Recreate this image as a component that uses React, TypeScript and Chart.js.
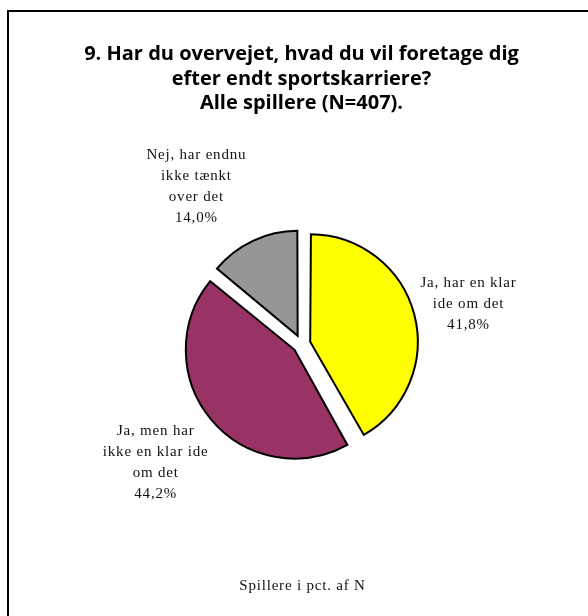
import React, { useEffect, useRef } from 'react';
import { Chart, registerables } from 'chart.js';

Chart.register(...registerables);

// ---- data ----
const categories: string[][] = [
  ['Ja, har en klar', 'ide om det'],
  ['Ja, men har', 'ikke en klar ide', 'om det'],
  ['Nej, har endnu', 'ikke tænkt', 'over det'],
];
const values: number[] = [41.8, 44.2, 14.0];
const colors: string[] = ['#FFFF00', '#993366', '#969696'];
const titleLines: string[] = [
  '9. Har du overvejet, hvad du vil foretage dig',
  'efter endt sportskarriere?',
  'Alle spillere (N=407).',
];
const caption = 'Spillere i pct. af N';

// ---- label placement (style) ----
const labelDist = [172, 187, 190];
const labelAngleNudge = [0.9, 1.2, -8.4];

const fmtPct = (v: number) => v.toFixed(1).replace('.', ',') + '%';

const framePlugin = {
  id: 'frame',
  beforeDraw(chart: any) {
    const ctx = chart.ctx;
    ctx.save();
    ctx.fillStyle = '#ffffff';
    ctx.fillRect(0, 0, chart.width, chart.height);
    ctx.strokeStyle = '#000000';
    ctx.lineWidth = 2;
    ctx.beginPath();
    ctx.moveTo(8, chart.height);
    ctx.lineTo(8, 11);
    ctx.lineTo(chart.width, 11);
    ctx.stroke();
    ctx.restore();
  },
};

const labelPlugin = {
  id: 'sliceLabels',
  afterDatasetsDraw(chart: any) {
    const ctx = chart.ctx;
    const meta = chart.getDatasetMeta(0);
    ctx.save();
    ctx.font = '15px "Liberation Serif"';
    (ctx as any).letterSpacing = '0.8px';
    ctx.fillStyle = '#111111';
    ctx.textAlign = 'center';
    ctx.textBaseline = 'alphabetic';
    meta.data.forEach((arc: any, i: number) => {
      const { x, y, startAngle, endAngle } = arc.getProps(['x', 'y', 'startAngle', 'endAngle'], true);
      const a = (startAngle + endAngle) / 2 + (labelAngleNudge[i] * Math.PI) / 180;
      const cx = x + Math.cos(a) * labelDist[i];
      const cy = y + Math.sin(a) * labelDist[i];
      const lines = [...categories[i], fmtPct(values[i])];
      lines.forEach((l, k) => {
        ctx.fillText(l, cx, cy + 5 + (k - (lines.length - 1) / 2) * 21);
      });
    });
    const area = chart.chartArea;
    ctx.fillText(caption, (area.left + area.right) / 2 + 1, 590);
    ctx.restore();
  },
};

export default function App() {
  const ref = useRef<HTMLCanvasElement | null>(null);
  useEffect(() => {
    if (!ref.current) return;
    const chart = new Chart(ref.current, {
      type: 'pie',
      data: {
        labels: categories.map((c) => c.join(' ')),
        datasets: [
          {
            data: values,
            backgroundColor: colors,
            borderColor: '#000000',
            borderWidth: 2,
            borderJoinStyle: 'miter',
            offset: 36,
            radius: 103,
          } as any,
        ],
      },
      options: {
        responsive: false,
        animation: false,
        layout: { padding: { left: 15, right: 0, top: 0, bottom: 44 } },
        plugins: {
          legend: { display: false },
          tooltip: { enabled: false },
          title: {
            display: true,
            text: titleLines,
            color: '#000000',
            font: { family: "'Open Sans'", size: 20, weight: 'bold', lineHeight: 24.5 / 20 },
            padding: { top: 42.5, bottom: 0 },
          },
        },
      },
      plugins: [framePlugin, labelPlugin],
    });
    return () => chart.destroy();
  }, []);
  return (
    <div style={{ width: 588, height: 616 }}>
      <style>{`html,body{margin:0;padding:0;overflow:hidden;background:#fff}`}</style>
      <canvas ref={ref} width={588} height={616} style={{ display: 'block' }} />
    </div>
  );
}
